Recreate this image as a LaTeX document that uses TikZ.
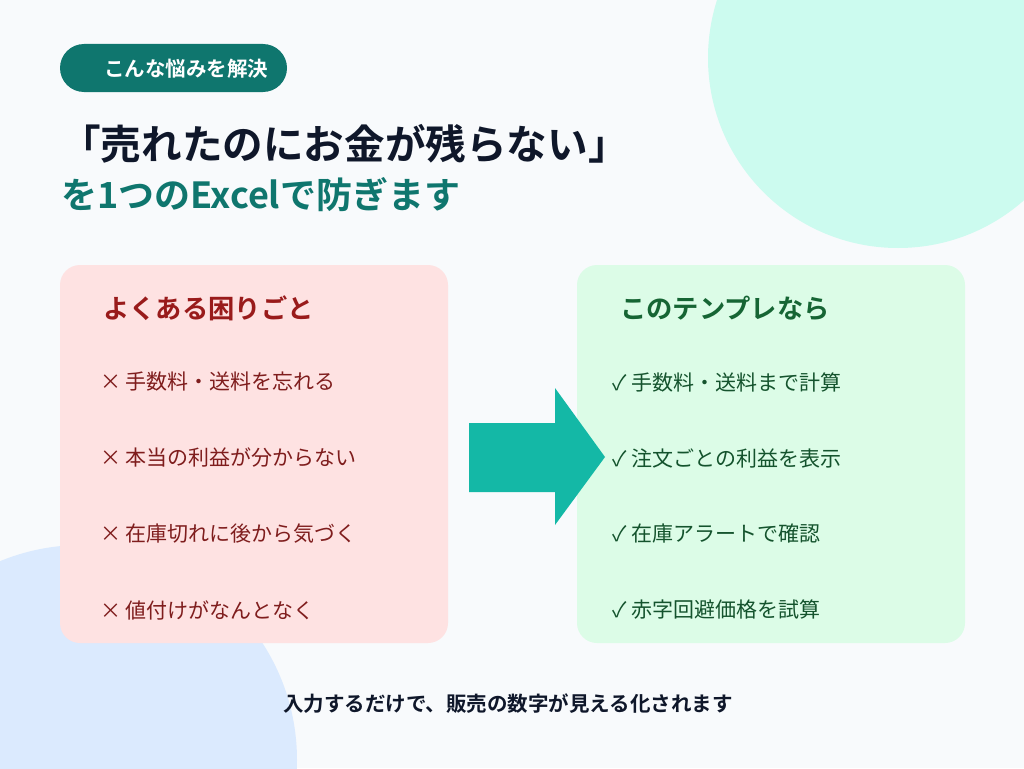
\documentclass[tikz,border=0pt]{standalone}
\usepackage{fontspec}
\setmainfont{Noto Sans CJK JP}
\newfontfamily\jpb{Noto Sans CJK JP Bold}
\definecolor{bg}{HTML}{F8FAFC}
\definecolor{mint}{HTML}{CCFBEF}
\definecolor{lblue}{HTML}{DBEAFE}
\definecolor{teal}{HTML}{0F766E}
\definecolor{navy}{HTML}{0F172A}
\definecolor{pinkbg}{HTML}{FEE2E2}
\definecolor{greenbg}{HTML}{DCFCE7}
\definecolor{dred}{HTML}{991B1B}
\definecolor{ired}{HTML}{7F1D1D}
\definecolor{dgreen}{HTML}{166534}
\definecolor{igreen}{HTML}{14532D}
\definecolor{arrowc}{HTML}{14B8A6}
\begin{document}
\begin{tikzpicture}[x=1pt,y=-1pt,
  item/.style={anchor=west,font=\fontsize{21}{21}\selectfont,inner sep=0pt},
  head/.style={anchor=west,font=\jpb\fontsize{26.3}{26}\selectfont,inner sep=0pt},
  box/.style={rounded corners=20pt}]
\useasboundingbox (0,0) rectangle (1024,768);
\fill[bg] (0,0) rectangle (1024,768);
\begin{scope}
\clip (0,0) rectangle (1024,768);
\fill[mint] (898,58) circle (190);
\fill[lblue] (82,760) circle (215);
\end{scope}
\fill[teal,rounded corners=24pt] (60,44) rectangle (287,92);
\node[anchor=west,text=white,font=\jpb\fontsize{20.5}{20}\selectfont,inner sep=0pt] (badge) at (104,69) {こんな悩みを解決};
\node[anchor=west,text=navy,font=\jpb\fontsize{40.6}{40}\selectfont,inner sep=0pt] (title) at (60,144) {「売れたのにお金が残らない」};
\node[anchor=west,text=teal,font=\jpb\fontsize{36}{36}\selectfont,inner sep=0pt] (sub) at (61,195) {を1つのExcelで防ぎます};
\fill[pinkbg,box] (60,265) rectangle (448,643);
\fill[greenbg,box] (577,265) rectangle (965,643);
\node[head,text=dred] (lh) at (103,308) {よくある困りごと};
\node[head,text=dgreen] (rh) at (620,308) {このテンプレなら};
\foreach \t [count=\i] in {× 手数料・送料を忘れる,× 本当の利益が分からない,× 在庫切れに後から気づく,× 値付けがなんとなく}
  \node[item,text=ired] (l\i) at (100,{382+(\i-1)*76}) {\t};
\foreach \t [count=\i] in {✓ 手数料・送料まで計算,✓ 注文ごとの利益を表示,✓ 在庫アラートで確認,✓ 赤字回避価格を試算}
  \node[item,text=igreen] (r\i) at (612,{382+(\i-1)*76}) {\t};
\fill[arrowc] (469,423) -- (555,423) -- (555,388) -- (605,457) -- (555,525) -- (555,492) -- (469,492) -- cycle;
\node[text=navy,font=\jpb\fontsize{20.5}{20}\selectfont,inner sep=0pt] (foot) at (508,704) {入力するだけで、販売の数字が見える化されます};
\end{tikzpicture}
\end{document}
